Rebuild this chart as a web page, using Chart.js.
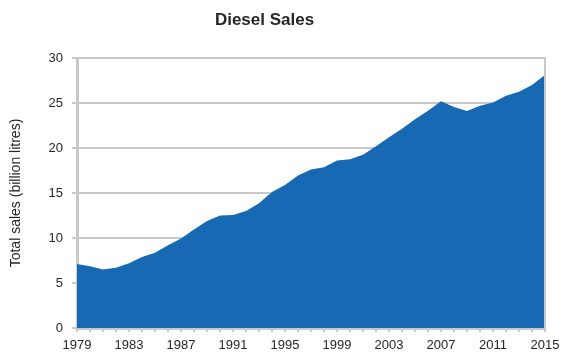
<!DOCTYPE html>
<html>
<head>
<meta charset="utf-8">
<script src="https://cdn.jsdelivr.net/npm/chart.js@4.4.1/dist/chart.umd.min.js"></script>
<style>
  html, body { margin: 0; padding: 0; background: #ffffff; }
  #wrap { width: 561px; height: 354px; }
</style>
</head>
<body>
<div id="wrap"><canvas id="c" width="561" height="354"></canvas></div>
<script>
// Annual diesel sales, billion litres
const years = [];
for (let y = 1979; y <= 2015; y++) years.push(String(y));
const sales = [
  7.1, 6.85, 6.5, 6.7, 7.2, 7.9, 8.35, 9.2, 9.95, 10.95,
  11.9, 12.5, 12.55, 13.0, 13.85, 15.1, 15.9, 16.95, 17.6, 17.85,
  18.6, 18.75, 19.25, 20.2, 21.2, 22.15, 23.2, 24.15, 25.2, 24.55,
  24.1, 24.7, 25.05, 25.8, 26.25, 27.0, 28.1
];
const yTicks = [0, 5, 10, 15, 20, 25, 30];

const GRID = '#c9c9c9';
const TEXT = '#262626';
const FONT = 'Liberation Sans, Arial, sans-serif';

// Thin frame on the right-hand edge of the plot
const rightEdge = {
  id: 'rightEdge',
  afterDatasetsDraw(chart) {
    const { ctx, chartArea: a } = chart;
    ctx.save();
    ctx.strokeStyle = GRID;
    ctx.lineWidth = 2;
    ctx.beginPath();
    ctx.moveTo(a.right, a.top - 1);
    ctx.lineTo(a.right, a.bottom);
    ctx.stroke();
    ctx.restore();
  }
};

// Centre the heading over the page rather than the padded layout box
const titleSpan = {
  id: 'titleSpan',
  afterLayout(chart) {
    const t = chart.titleBlock;
    if (t) { t.left = 0; t.right = 529; }
  }
};

new Chart(document.getElementById('c'), {
  type: 'line',
  data: {
    labels: years,
    datasets: [{
      data: sales,
      fill: 'origin',
      backgroundColor: '#1769b3',
      borderColor: '#1769b3',
      borderWidth: 0,
      pointRadius: 0,
      tension: 0
    }]
  },
  options: {
    responsive: false,
    animation: false,
    layout: { padding: { left: 0, right: 16, top: 0, bottom: 0 } },
    plugins: {
      legend: { display: false },
      tooltip: { enabled: false },
      title: {
        display: true,
        text: 'Diesel Sales',
        color: TEXT,
        font: { family: FONT, size: 17, weight: 'bold', lineHeight: 1.2 },
        padding: { top: 10, bottom: 27.6 }
      }
    },
    scales: {
      x: {
        type: 'category',
        offset: false,
        grid: {
          display: true,
          drawOnChartArea: false,
          drawTicks: true,
          tickLength: 4,
          color: GRID,
          lineWidth: 2
        },
        border: { display: true, color: GRID, width: 3 },
        ticks: {
          autoSkip: false,
          maxRotation: 0,
          minRotation: 0,
          padding: 6,
          color: TEXT,
          font: { family: FONT, size: 13 },
          callback: function (v, i) { return i % 4 === 0 ? years[i] : ''; }
        },
        afterFit(scale) {
          scale.height = 26;
          scale.paddingLeft = 0;
          scale.paddingRight = 0;
        }
      },
      y: {
        min: 0,
        max: 30,
        afterBuildTicks(scale) { scale.ticks = yTicks.map(v => ({ value: v })); },
        grid: {
          color: GRID,
          lineWidth: 2,
          drawTicks: true,
          tickLength: 5
        },
        border: { display: true, color: GRID, width: 3 },
        ticks: {
          padding: 9,
          color: TEXT,
          font: { family: FONT, size: 13 }
        },
        title: {
          display: true,
          text: 'Total sales (billion litres)',
          color: TEXT,
          font: { family: FONT, size: 14 },
          padding: { top: 8, bottom: 0 }
        },
        afterFit(scale) {
          scale.width = 77;
          scale.paddingTop = 0;
          scale.paddingBottom = 0;
        }
      }
    }
  },
  plugins: [rightEdge, titleSpan]
});
</script>
</body>
</html>
